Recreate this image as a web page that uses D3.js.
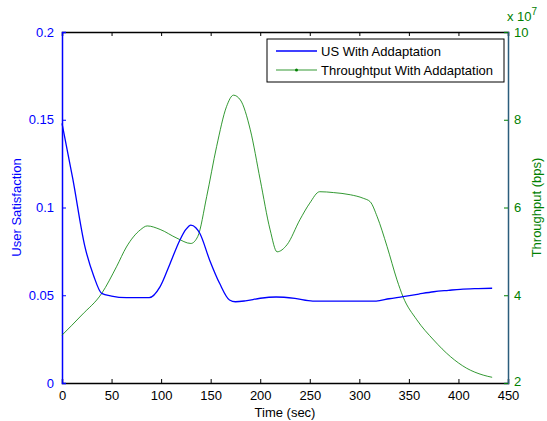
<!DOCTYPE html>
<html lang="en">
<head>
  <meta charset="UTF-8">
  <title>User Satisfaction and Throughput</title>
  <script src="https://d3js.org/d3.v7.min.js"></script>
  <style>
    body { margin: 0; background: #fff; }
    svg { display: block; font-family: "Liberation Sans", Arial, sans-serif; }
    .tick text { font-size: 13px; }
  </style>
</head>
<body>

<svg width="547" height="421"></svg>

<script>
  // User satisfaction (left axis)
  const usTime = [0, 11, 23, 32, 40, 50, 65, 88, 99, 109, 119, 125, 130, 135, 139, 149, 159, 169, 175, 185, 200, 216, 235, 253, 280, 300, 317, 330, 344, 360, 375, 390, 402, 420, 434];
  const usVal  = [0.148, 0.116, 0.078, 0.061, 0.0511, 0.0495, 0.0486, 0.0486, 0.0549, 0.068, 0.0815, 0.0875, 0.090, 0.0885, 0.0853, 0.070, 0.0568, 0.0473, 0.0463, 0.0468, 0.0483, 0.049, 0.0482, 0.0467, 0.0467, 0.0467, 0.0467, 0.048, 0.0492, 0.0507, 0.052, 0.0528, 0.0534, 0.0538, 0.054];

  // Throughput (right axis, in units of 1e7 bps)
  const tpTime = [0, 20, 40, 55, 65, 79, 86, 99, 116, 130, 137, 146, 156, 166, 173, 180, 190, 200, 210, 217, 227, 240, 250, 260, 274, 291, 304, 311, 318, 328, 338, 344, 358, 375, 392, 408, 425, 434];
  const tpVal  = [3.09, 3.55, 4.04, 4.65, 5.10, 5.49, 5.58, 5.50, 5.30, 5.18, 5.34, 6.25, 7.39, 8.30, 8.56, 8.45, 7.77, 6.63, 5.49, 4.99, 5.15, 5.72, 6.10, 6.36, 6.34, 6.29, 6.21, 6.13, 5.79, 5.11, 4.35, 3.97, 3.44, 2.98, 2.60, 2.34, 2.18, 2.13];

  const xTicks = [0, 50, 100, 150, 200, 250, 300, 350, 400, 450];
  const usTicks = [0, 0.05, 0.1, 0.15, 0.2];
  const tpTicks = [2, 4, 6, 8, 10];

  const usData = usTime.map((t, i) => ({ t: t, v: usVal[i] }));
  const tpData = tpTime.map((t, i) => ({ t: t, v: tpVal[i] }));

  const svg = d3.select("svg");
  const plotL = 62, plotR = 508, plotT = 32, plotB = 383;
  const blue = "#0000ff", green = "#008000", rightAxisColor = "#2b5d7c";

  const x = d3.scaleLinear().domain([0, 450]).range([plotL, plotR]);
  const yL = d3.scaleLinear().domain([0, 0.2]).range([plotB, plotT]);
  const yR = d3.scaleLinear().domain([2, 10]).range([plotB, plotT]);

  // bottom axis with inward ticks
  const xAxis = svg.append("g").attr("transform", `translate(0,${plotB})`)
    .call(d3.axisBottom(x).tickValues(xTicks).tickFormat(d3.format("d")).tickSize(-4).tickPadding(8));
  xAxis.select(".domain").attr("stroke", "#000").attr("stroke-width", 1.5);
  xAxis.selectAll(".tick text").attr("fill", "#000");

  // top axis, ticks only
  const xTop = svg.append("g").attr("transform", `translate(0,${plotT})`)
    .call(d3.axisTop(x).tickValues(xTicks).tickFormat("").tickSize(-4));
  xTop.select(".domain").attr("stroke", "#000").attr("stroke-width", 1.5);

  // left axis
  const yAxisL = svg.append("g").attr("transform", `translate(${plotL},0)`)
    .call(d3.axisLeft(yL).tickValues(usTicks).tickFormat(d => d === 0 ? "0" : String(d)).tickSize(-4).tickPadding(8));
  yAxisL.select(".domain").attr("stroke", blue).attr("stroke-width", 1.5);
  yAxisL.selectAll(".tick line").attr("stroke", blue);
  yAxisL.selectAll(".tick text").attr("fill", blue);

  // right axis
  const yAxisR = svg.append("g").attr("transform", `translate(${plotR},0)`)
    .call(d3.axisRight(yR).tickValues(tpTicks).tickFormat(d3.format("d")).tickSize(-4).tickPadding(6));
  yAxisR.select(".domain").attr("stroke", rightAxisColor).attr("stroke-width", 1.5);
  yAxisR.selectAll(".tick line").attr("stroke", green);
  yAxisR.selectAll(".tick text").attr("fill", green)
    .attr("y", d => d === 2 ? -2 : 0);

  const line = yScale => d3.line().x(d => x(d.t)).y(d => yScale(d.v)).curve(d3.curveMonotoneX);

  svg.append("path").datum(tpData)
    .attr("d", line(yR))
    .attr("fill", "none").attr("stroke", green).attr("stroke-width", 1).attr("stroke-opacity", 0.8);

  svg.append("path").datum(usData)
    .attr("d", line(yL))
    .attr("fill", "none").attr("stroke", blue).attr("stroke-width", 1.3);

  // exponent label
  const expo = svg.append("text").attr("x", 507).attr("y", 21).attr("fill", green).attr("font-size", 13);
  expo.append("tspan").text("x 10");
  expo.append("tspan").attr("dy", -6).attr("font-size", 10).text("7");

  // axis titles
  svg.append("text").attr("x", (plotL + plotR) / 2).attr("y", 417)
    .attr("text-anchor", "middle").attr("font-size", 13).text("Time (sec)");
  svg.append("text").attr("transform", `translate(21,${(plotT + plotB) / 2}) rotate(-90)`)
    .attr("text-anchor", "middle").attr("font-size", 13).attr("fill", blue).text("User Satisfaction");
  svg.append("text").attr("transform", `translate(541,${(plotT + plotB) / 2}) rotate(-90)`)
    .attr("text-anchor", "middle").attr("font-size", 13).attr("fill", green).text("Throughput (bps)");

  // legend
  const legend = svg.append("g");
  legend.append("rect").attr("x", 267).attr("y", 39).attr("width", 237).attr("height", 43)
    .attr("fill", "#fff").attr("stroke", "#000").attr("stroke-width", 1);
  const items = [
    { label: "US With Addaptation", color: blue, marker: false },
    { label: "Throughtput With Addaptation", color: green, marker: true }
  ];
  items.forEach((d, i) => {
    const yy = 51 + i * 19;
    legend.append("line").attr("x1", 276).attr("x2", 317).attr("y1", yy).attr("y2", yy)
      .attr("stroke", d.color).attr("stroke-width", d.marker ? 1 : 1.3).attr("stroke-opacity", d.marker ? 0.8 : 1);
    if (d.marker) legend.append("circle").attr("cx", 296.5).attr("cy", yy).attr("r", 1.5).attr("fill", d.color);
    legend.append("text").attr("x", 321).attr("y", yy + 5).attr("font-size", 13).text(d.label);
  });
</script>

</body>
</html>
